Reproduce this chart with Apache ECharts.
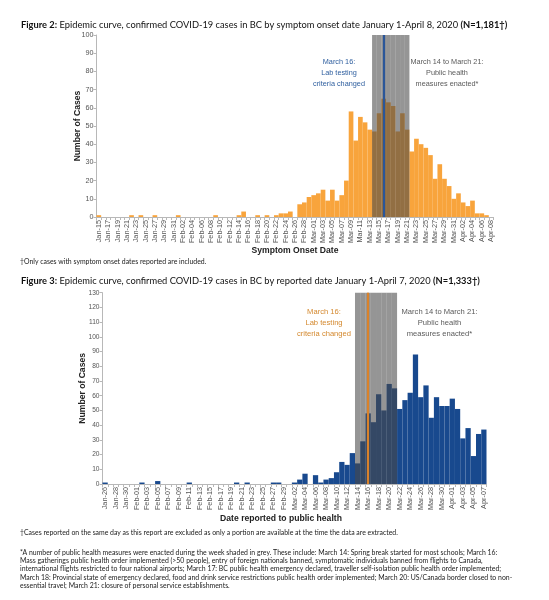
<!DOCTYPE html>
<html><head><meta charset="utf-8">
<script src="https://cdn.jsdelivr.net/npm/echarts@6/dist/echarts.min.js"></script>
<style>html,body{margin:0;padding:0;background:#fff}#c{width:549px;height:600px}</style>
</head><body><div id="c"></div>
<script>
// ---------- DATA ----------
const onsetDates = [
 'Jan-15','Jan-16','Jan-17','Jan-18','Jan-19','Jan-20','Jan-21','Jan-22','Jan-23','Jan-24','Jan-25','Jan-26','Jan-27','Jan-28','Jan-29','Jan-30','Jan-31',
 'Feb-01','Feb-02','Feb-03','Feb-04','Feb-05','Feb-06','Feb-07','Feb-08','Feb-09','Feb-10','Feb-11','Feb-12','Feb-13','Feb-14','Feb-15','Feb-16','Feb-17','Feb-18','Feb-19','Feb-20','Feb-21','Feb-22','Feb-23','Feb-24','Feb-25','Feb-26','Feb-27','Feb-28','Feb-29',
 'Mar-01','Mar-02','Mar-03','Mar-04','Mar-05','Mar-06','Mar-07','Mar-08','Mar-09','Mar-10','Mar-11','Mar-12','Mar-13','Mar-14','Mar-15','Mar-16','Mar-17','Mar-18','Mar-19','Mar-20','Mar-21','Mar-22','Mar-23','Mar-24','Mar-25','Mar-26','Mar-27','Mar-28','Mar-29','Mar-30','Mar-31',
 'Apr-01','Apr-02','Apr-03','Apr-04','Apr-05','Apr-06','Apr-07','Apr-08'];
const onsetCases = [
 1,0,0,0,0,0,0,1,0,1,0,0,1,0,0,0,0,
 1,0,0,0,0,0,0,0,1,0,0,0,0,1,3,0,0,1,0,1,0,1,2,2,3,0,7,8,11,
 12,13,15,9,15,9,12,20,58,42,55,52,48,47,57,65,63,61,47,57,48,36,43,40,38,34,21,29,21,17,10,
 13,8,6,9,2,2,1,0];
const reportDates = [
 'Jan-26','Jan-27','Jan-28','Jan-29','Jan-30','Jan-31',
 'Feb-01','Feb-02','Feb-03','Feb-04','Feb-05','Feb-06','Feb-07','Feb-08','Feb-09','Feb-10','Feb-11','Feb-12','Feb-13','Feb-14','Feb-15','Feb-16','Feb-17','Feb-18','Feb-19','Feb-20','Feb-21','Feb-22','Feb-23','Feb-24','Feb-25','Feb-26','Feb-27','Feb-28','Feb-29',
 'Mar-01','Mar-02','Mar-03','Mar-04','Mar-05','Mar-06','Mar-07','Mar-08','Mar-09','Mar-10','Mar-11','Mar-12','Mar-13','Mar-14','Mar-15','Mar-16','Mar-17','Mar-18','Mar-19','Mar-20','Mar-21','Mar-22','Mar-23','Mar-24','Mar-25','Mar-26','Mar-27','Mar-28','Mar-29','Mar-30','Mar-31',
 'Apr-01','Apr-02','Apr-03','Apr-04','Apr-05','Apr-06','Apr-07'];
const reportCases = [
 1,0,0,0,0,0,
 0,1,0,0,2,0,0,0,0,0,1,0,0,0,0,0,0,0,0,1,0,1,0,0,0,0,1,1,0,
 0,1,3,7,0,6,1,3,4,8,15,13,21,14,29,48,42,61,50,68,65,51,57,62,88,59,67,45,59,53,53,
 58,51,31,38,19,34,37];
const shadeStart = 'Mar-14';
const shadeEnd = 'Mar-21';
const labChangeDate = 'Mar-16';
const onsetMax = 100;
const reportMax = 130;
const yInterval = 10;

// ---------- TEXT ----------
const title2 = '{b|Figure 2:} Epidemic curve, confirmed COVID-19 cases in BC by symptom onset date January 1-April 8, 2020 {b|(N=1,181\u2020)}';
const title3 = '{b|Figure 3:} Epidemic curve, confirmed COVID-19 cases in BC by reported date January 1-April 7, 2020 {b|(N=1,333\u2020)}';
const foot2 = '\u2020Only cases with symptom onset dates reported are included.';
const foot3 = '\u2020Cases reported on the same day as this report are excluded as only a portion are available at the time the data are extracted.';
const noteLines = [
 '*A number of public health measures were enacted during the week shaded in grey. These include: March 14: Spring break started for most schools; March 16:',
 'Mass gatherings public health order implemented (>50 people), entry of foreign nationals banned, symptomatic individuals banned from flights to Canada,',
 'international flights restricted to four national airports; March 17: BC public health emergency declared, traveller self-isolation public health order implemented;',
 'March 18: Provincial state of emergency declared, food and drink service restrictions public health order implemented; March 20: US/Canada border closed to non-',
 'essential travel; March 21: closure of personal service establishments.'];
const labNote = 'March 16:\nLab testing\ncriteria changed';
const measNote = 'March 14 to March 21:\nPublic health\nmeasures enacted*';

// ---------- STYLE ----------
const AX = '"Liberation Sans", Arial, sans-serif';
const TF = 'Lato, "Open Sans", sans-serif';
const ORANGE = '#F8A43C';
const BLUE = '#18498E';
const SHADE = 'rgba(72,72,72,0.58)';
const AXC = '#b8b8b8';
const LBL = '#555';

function shadeData(dates, top) {
  const i0 = dates.indexOf(shadeStart), i1 = dates.indexOf(shadeEnd);
  return dates.map((d, i) => (i >= i0 && i <= i1) ? top : null);
}

function xAxisCfg(gi, data, name, nameGap) {
  return {
    type: 'category', gridIndex: gi, data: data, boundaryGap: true,
    axisLine: {lineStyle: {color: AXC, width: 1}},
    axisTick: {show: true, interval: 0, length: 3, lineStyle: {color: AXC}},
    axisLabel: {interval: 1, rotate: 90, fontSize: 7.3, color: LBL, fontFamily: AX, margin: 3},
    name: name, nameLocation: 'middle', nameGap: nameGap, nameMoveOverlap: false,
    nameTextStyle: {fontFamily: AX, fontWeight: 'bold', fontSize: 8.6, color: '#222'}
  };
}
function yAxisCfg(gi, max, fs, nameGap) {
  return {
    type: 'value', gridIndex: gi, min: 0, max: max, interval: yInterval,
    splitLine: {show: false},
    axisLine: {show: true, lineStyle: {color: AXC}},
    axisTick: {show: true, length: 3, lineStyle: {color: AXC}},
    axisLabel: {fontSize: fs, color: LBL, fontFamily: AX, margin: 3},
    name: 'Number of Cases', nameLocation: 'middle', nameGap: nameGap, nameRotate: 90, nameMoveOverlap: false,
    nameTextStyle: {fontFamily: AX, fontWeight: 'bold', fontSize: 8.6, color: '#222'}
  };
}
function barSeries(xi, data, color, lineDate, lineColor) {
  return [{
    type: 'bar', xAxisIndex: xi, yAxisIndex: xi, data: data,
    barWidth: '100%', barGap: '-100%', barCategoryGap: '0%', z: 2,
    itemStyle: {color: color}, silent: true, animation: false
  }, {
    type: 'bar', xAxisIndex: xi, yAxisIndex: xi,
    data: shadeData(xi === 0 ? onsetDates : reportDates, xi === 0 ? onsetMax : reportMax),
    barWidth: '100%', barGap: '-100%', barCategoryGap: '0%', z: 3,
    itemStyle: {color: SHADE}, silent: true, animation: false,
    markLine: {
      symbol: 'none', silent: true, animation: false, z: 5,
      label: {show: false},
      lineStyle: {color: lineColor, width: 2.2, type: 'solid'},
      data: [{xAxis: lineDate}]
    }
  }];
}

function txt(x, y, text, font, fill, align) {
  return {type: 'text', x: x, y: y, silent: true,
    style: {text: text, font: font, fill: fill, align: align || 'left', verticalAlign: 'middle'}};
}
function rich(x, y, text, size) {
  return {type: 'text', x: x, y: y, silent: true,
    style: {text: text, fontFamily: TF, fontSize: size, fill: '#111', verticalAlign: 'middle', align: 'left',
      rich: {b: {fontFamily: TF, fontSize: size, fontWeight: 'bold', fill: '#111'}}}};
}
function multi(x, y, text, size, fill) {
  return {type: 'text', x: x, y: y, silent: true,
    style: {text: text, fontFamily: AX, fontSize: size, fill: fill, align: 'center', verticalAlign: 'top', lineHeight: 11}};
}

const graphics = [
  rich(21, 25, title2, 9.3),
  rich(21, 281, title3, 9.3),
  txt(20, 262, foot2, '6.9px ' + TF, '#222'),
  txt(20, 533, foot3, '6.9px ' + TF, '#222'),
  multi(339, 56, labNote, 7.3, '#2F5F9F'),
  multi(447, 56, measNote, 7.3, '#5a5a5a'),
  multi(324, 306, labNote, 7.6, '#D4892F'),
  multi(439.5, 306, measNote, 7.6, '#5a5a5a'),
  txt(281, 519, 'Date reported to public health', 'bold 8.6px ' + AX, '#222', 'center')
];
noteLines.forEach((l, i) => graphics.push(txt(20, 552.3 + i * 8.45, l, '6.9px ' + TF, '#222')));

const option = {
  backgroundColor: '#fff',
  animation: false,
  grid: [
    {left: 96.5, top: 35, width: 397, height: 182, containLabel: false},
    {left: 102.5, top: 292.7, width: 384, height: 191.3, containLabel: false}
  ],
  xAxis: [
    xAxisCfg(0, onsetDates, 'Symptom Onset Date', 29),
    xAxisCfg(1, reportDates, '', 30)
  ],
  yAxis: [
    yAxisCfg(0, onsetMax, 7.2, 14),
    yAxisCfg(1, reportMax, 6.6, 15)
  ],
  series: [
    ...barSeries(0, onsetCases, ORANGE, labChangeDate, '#2A5699'),
    ...barSeries(1, reportCases, BLUE, labChangeDate, '#D9822B')
  ],
  graphic: graphics
};
const chart = echarts.init(document.getElementById('c'), null, {renderer: 'canvas', width: 549, height: 600});
chart.setOption(option);
</script>
</body></html>
